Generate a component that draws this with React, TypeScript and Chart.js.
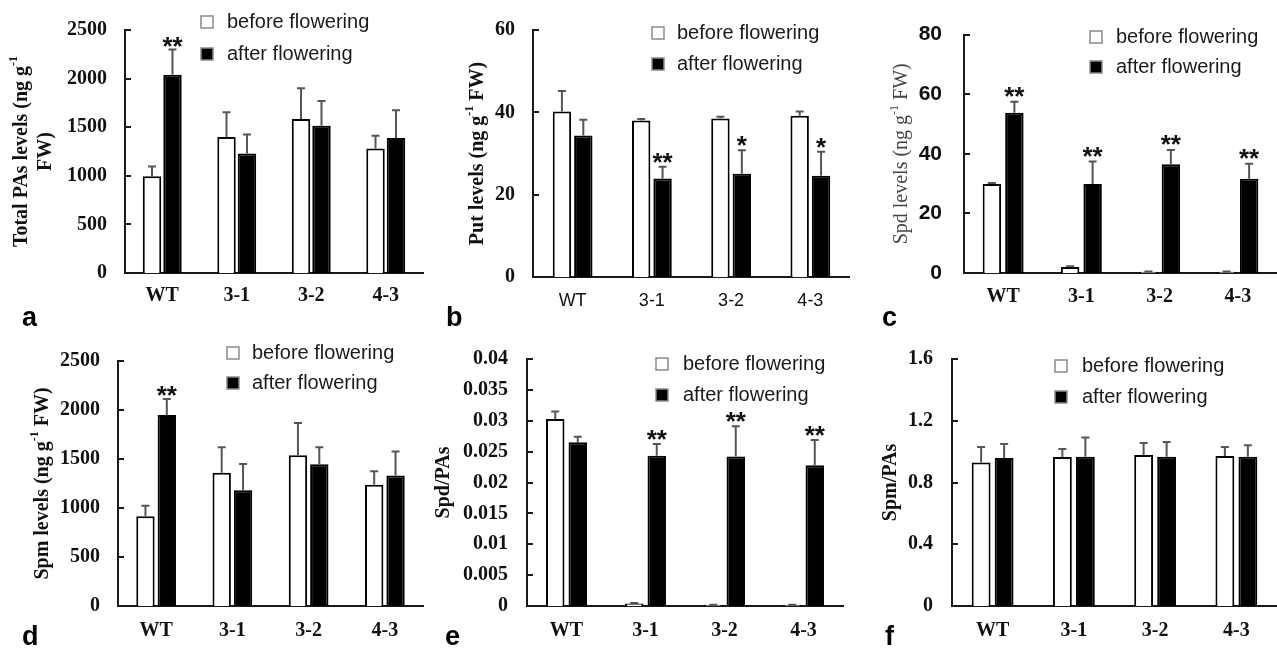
import React, { useEffect, useRef } from "react";
import { Chart, registerables } from "chart.js";

Chart.register(...registerables);

// ---------------- data ----------------
const CATEGORIES = ["WT", "3-1", "3-2", "4-3"];
const SERIES = ["before flowering", "after flowering"];

// a: Total PAs levels
const A_BEFORE = [995, 1400, 1585, 1280];
const A_BEFORE_ERR = [100, 255, 315, 133];
const A_AFTER = [2040, 1230, 1515, 1390];
const A_AFTER_ERR = [260, 195, 255, 285];
const A_SIG = ["**", "", "", ""];
const A_TICKS = [0, 500, 1000, 1500, 2000, 2500];
const A_TICK_LABELS = ["0", "500", "1000", "1500", "2000", "2500"];

// b: Put levels
const B_BEFORE = [40.2, 38.0, 38.5, 39.2];
const B_BEFORE_ERR = [5.0, 0.4, 0.4, 1.0];
const B_AFTER = [34.4, 23.9, 25.1, 24.6];
const B_AFTER_ERR = [3.8, 2.9, 5.7, 5.8];
const B_SIG = ["", "**", "*", "*"];
const B_TICKS = [0, 20, 40, 60];
const B_TICK_LABELS = ["0", "20", "40", "60"];

// c: Spd levels
const C_BEFORE = [29.9, 2.0, 0.4, 0.4];
const C_BEFORE_ERR = [0.3, 0.3, 0.1, 0.1];
const C_AFTER = [53.8, 29.9, 36.5, 31.6];
const C_AFTER_ERR = [3.7, 7.5, 4.8, 5.1];
const C_SIG = ["**", "**", "**", "**"];
const C_TICKS = [0, 20, 40, 60, 80];
const C_TICK_LABELS = ["0", "20", "40", "60", "80"];

// d: Spm levels
const D_BEFORE = [917, 1359, 1539, 1236];
const D_BEFORE_ERR = [105, 261, 329, 140];
const D_AFTER = [1950, 1182, 1447, 1332];
const D_AFTER_ERR = [163, 268, 173, 244];
const D_SIG = ["**", "", "", ""];
const D_TICKS = [0, 500, 1000, 1500, 2000, 2500];
const D_TICK_LABELS = ["0", "500", "1000", "1500", "2000", "2500"];

// e: Spd/PAs
const E_BEFORE = [0.0303, 0.0004, 0.0002, 0.0002];
const E_BEFORE_ERR = [0.0012, 0.0001, 0, 0];
const E_AFTER = [0.0265, 0.02435, 0.0242, 0.0228];
const E_AFTER_ERR = [0.0009, 0.0019, 0.0049, 0.0041];
const E_SIG = ["", "**", "**", "**"];
const E_TICKS = [0, 0.005, 0.01, 0.015, 0.02, 0.025, 0.03, 0.035, 0.04];
const E_TICK_LABELS = ["0", "0.005", "0.01", "0.015", "0.02", "0.025", "0.03", "0.035", "0.04"];

// f: Spm/PAs
const F_BEFORE = [0.93, 0.965, 0.978, 0.972];
const F_BEFORE_ERR = [0.1, 0.052, 0.078, 0.058];
const F_AFTER = [0.959, 0.967, 0.967, 0.967];
const F_AFTER_ERR = [0.09, 0.125, 0.095, 0.074];
const F_SIG = ["", "", "", ""];
const F_TICKS = [0, 0.4, 0.8, 1.2, 1.6];
const F_TICK_LABELS = ["0", "0.4", "0.8", "1.2", "1.6"];

// y-axis titles ("^{...}" marks a superscript)
const A_TITLE = ["Total PAs levels (ng g^{-1}", "FW)"];
const B_TITLE = ["Put levels (ng g^{-1} FW)"];
const C_TITLE = ["Spd levels (ng g^{-1} FW)"];
const D_TITLE = ["Spm levels (ng g^{-1} FW)"];
const E_TITLE = ["Spd/PAs"];
const F_TITLE = ["Spm/PAs"];

const PANEL_LETTERS = ["a", "b", "c", "d", "e", "f"];

// ---------------- styles ----------------
const SERIF = '"Liberation Serif", "Times New Roman", serif';
const SANS = '"Liberation Sans", Arial, sans-serif';
const AXIS_COLOR = "#1a1a1a";
const ERR_COLOR = "#555555";
const TEXT_COLOR = "#111111";

type LegendPos = { mx: number; y1: number; y2: number; tx: number };

type PanelCfg = {
  left: number;
  top: number;
  width: number;
  height: number;
  yAxisWidth: number;
  xAxisHeight: number;
  padTop: number;
  padRight: number;
  catPct: number;
  barPct: number;
  before: number[];
  beforeErr: number[];
  after: number[];
  afterErr: number[];
  sig: string[];
  ticks: number[];
  tickLabels: string[];
  title: string[];
  titleWeight: string;
  titleColor: string;
  titleX: number;
  titleGap: number;
  yTickFont: any;
  yTickPad: number;
  xTickFont: any;
  xTickPad: number;
  legend: LegendPos;
  sigOffset: number;
};

const serifBold20 = { family: SERIF, size: 20, weight: "bold", lineHeight: 1.2 };

const PANELS: PanelCfg[] = [
  {
    left: 0, top: 0, width: 425, height: 318,
    yAxisWidth: 125, xAxisHeight: 45, padTop: 27, padRight: 2,
    catPct: 0.55, barPct: 0.9,
    before: A_BEFORE, beforeErr: A_BEFORE_ERR, after: A_AFTER, afterErr: A_AFTER_ERR, sig: A_SIG,
    ticks: A_TICKS, tickLabels: A_TICK_LABELS,
    title: A_TITLE, titleWeight: "bold", titleColor: TEXT_COLOR, titleX: 22, titleGap: 24,
    yTickFont: serifBold20, yTickPad: 18,
    xTickFont: serifBold20, xTickPad: 11,
    legend: { mx: 201, y1: 22, y2: 54, tx: 227 },
    sigOffset: 6,
  },
  {
    left: 425, top: 0, width: 425, height: 318,
    yAxisWidth: 108, xAxisHeight: 41, padTop: 26, padRight: 0,
    catPct: 0.54, barPct: 0.86,
    before: B_BEFORE, beforeErr: B_BEFORE_ERR, after: B_AFTER, afterErr: B_AFTER_ERR, sig: B_SIG,
    ticks: B_TICKS, tickLabels: B_TICK_LABELS,
    title: B_TITLE, titleWeight: "bold", titleColor: TEXT_COLOR, titleX: 53, titleGap: 24,
    yTickFont: serifBold20, yTickPad: 18,
    xTickFont: { family: SANS, size: 18, weight: "normal", lineHeight: 1.2 }, xTickPad: 13,
    legend: { mx: 227, y1: 33, y2: 64, tx: 252 },
    sigOffset: 4,
  },
  {
    left: 850, top: 0, width: 427, height: 318,
    yAxisWidth: 114, xAxisHeight: 45, padTop: 24, padRight: 0,
    catPct: 0.575, barPct: 0.82,
    before: C_BEFORE, beforeErr: C_BEFORE_ERR, after: C_AFTER, afterErr: C_AFTER_ERR, sig: C_SIG,
    ticks: C_TICKS, tickLabels: C_TICK_LABELS,
    title: C_TITLE, titleWeight: "normal", titleColor: "#444444", titleX: 52, titleGap: 24,
    yTickFont: { family: SANS, size: 21, weight: "bold", lineHeight: 1.2 }, yTickPad: 22,
    xTickFont: serifBold20, xTickPad: 12,
    legend: { mx: 240, y1: 37, y2: 67, tx: 266 },
    sigOffset: 3,
  },
  {
    left: 0, top: 320, width: 425, height: 328,
    yAxisWidth: 118, xAxisHeight: 42, padTop: 41, padRight: 2,
    catPct: 0.56, barPct: 0.86,
    before: D_BEFORE, beforeErr: D_BEFORE_ERR, after: D_AFTER, afterErr: D_AFTER_ERR, sig: D_SIG,
    ticks: D_TICKS, tickLabels: D_TICK_LABELS,
    title: D_TITLE, titleWeight: "bold", titleColor: TEXT_COLOR, titleX: 43, titleGap: 24,
    yTickFont: serifBold20, yTickPad: 18,
    xTickFont: serifBold20, xTickPad: 13,
    legend: { mx: 227, y1: 33, y2: 63, tx: 252 },
    sigOffset: 5,
  },
  {
    left: 425, top: 320, width: 425, height: 328,
    yAxisWidth: 102, xAxisHeight: 42, padTop: 39, padRight: 7,
    catPct: 0.57, barPct: 0.82,
    before: E_BEFORE, beforeErr: E_BEFORE_ERR, after: E_AFTER, afterErr: E_AFTER_ERR, sig: E_SIG,
    ticks: E_TICKS, tickLabels: E_TICK_LABELS,
    title: E_TITLE, titleWeight: "bold", titleColor: TEXT_COLOR, titleX: 19, titleGap: 24,
    yTickFont: serifBold20, yTickPad: 19,
    xTickFont: serifBold20, xTickPad: 13,
    legend: { mx: 231, y1: 44, y2: 75, tx: 258 },
    sigOffset: 4,
  },
  {
    left: 850, top: 320, width: 427, height: 328,
    yAxisWidth: 102, xAxisHeight: 42, padTop: 39, padRight: 0,
    catPct: 0.566, barPct: 0.82,
    before: F_BEFORE, beforeErr: F_BEFORE_ERR, after: F_AFTER, afterErr: F_AFTER_ERR, sig: F_SIG,
    ticks: F_TICKS, tickLabels: F_TICK_LABELS,
    title: F_TITLE, titleWeight: "bold", titleColor: TEXT_COLOR, titleX: 41, titleGap: 24,
    yTickFont: serifBold20, yTickPad: 19,
    xTickFont: serifBold20, xTickPad: 13,
    legend: { mx: 205, y1: 46, y2: 77, tx: 232 },
    sigOffset: 4,
  },
];

const LETTER_POS = [
  { x: 22, baseline: 327 },
  { x: 446, baseline: 327 },
  { x: 882, baseline: 327 },
  { x: 22, baseline: 646 },
  { x: 445, baseline: 646 },
  { x: 885, baseline: 646 },
];

// ---------------- helpers ----------------
function parseRich(s: string): { text: string; sup: boolean }[] {
  const out: { text: string; sup: boolean }[] = [];
  const re = /\^\{([^}]*)\}/g;
  let last = 0;
  let m: RegExpExecArray | null;
  while ((m = re.exec(s))) {
    if (m.index > last) out.push({ text: s.slice(last, m.index), sup: false });
    out.push({ text: m[1], sup: true });
    last = m.index + m[0].length;
  }
  if (last < s.length) out.push({ text: s.slice(last), sup: false });
  return out;
}

// ---------------- plugin ----------------
const decoPlugin = {
  id: "panelDeco",
  afterDatasetsDraw(chart: any, _args: any, opts: any) {
    const ctx = chart.ctx;
    const y = chart.scales.y;
    const area = chart.chartArea;
    ctx.save();

    // inward tick marks on the y axis
    ctx.strokeStyle = AXIS_COLOR;
    ctx.lineWidth = 2;
    y.ticks.forEach((t: any) => {
      const py = Math.round(y.getPixelForValue(t.value));
      ctx.beginPath();
      ctx.moveTo(y.right, py);
      ctx.lineTo(y.right + 6, py);
      ctx.stroke();
    });

    // error bars + significance marks
    chart.data.datasets.forEach((ds: any, di: number) => {
      const meta = chart.getDatasetMeta(di);
      meta.data.forEach((el: any, i: number) => {
        const v = ds.data[i];
        const e = ds.errors ? ds.errors[i] : 0;
        const topPx = y.getPixelForValue(v + e);
        const barTop = y.getPixelForValue(v);
        ctx.strokeStyle = ERR_COLOR;
        ctx.lineWidth = 2;
        ctx.beginPath();
        ctx.moveTo(el.x, barTop);
        ctx.lineTo(el.x, topPx);
        ctx.moveTo(el.x - 4, topPx);
        ctx.lineTo(el.x + 4, topPx);
        ctx.stroke();
        const s = ds.sig ? ds.sig[i] : "";
        if (s) {
          ctx.fillStyle = TEXT_COLOR;
          ctx.font = `bold 26px ${SANS}`;
          ctx.textAlign = "center";
          ctx.textBaseline = "alphabetic";
          ctx.fillText(s, el.x, topPx + (opts.sigOffset || 0));
        }
      });
    });

    // y-axis title with superscripts
    const t = opts.title;
    const cy = (area.top + area.bottom) / 2;
    const size = 20;
    const baseFont = `${t.weight} ${size}px ${SERIF}`;
    const supFont = `${t.weight} ${Math.round(size * 0.6)}px ${SERIF}`;
    t.lines.forEach((line: string, k: number) => {
      const segs = parseRich(line);
      let total = 0;
      segs.forEach((sg) => {
        ctx.font = sg.sup ? supFont : baseFont;
        total += ctx.measureText(sg.text).width;
      });
      ctx.save();
      ctx.translate(t.x + k * t.gap, cy);
      ctx.rotate(-Math.PI / 2);
      ctx.fillStyle = t.color;
      ctx.textAlign = "left";
      ctx.textBaseline = "middle";
      let x = -total / 2;
      segs.forEach((sg) => {
        ctx.font = sg.sup ? supFont : baseFont;
        ctx.fillText(sg.text, x, sg.sup ? -size * 0.38 : 0);
        x += ctx.measureText(sg.text).width;
      });
      ctx.restore();
    });

    // legend
    const lg = opts.legend;
    const rows = [lg.y1, lg.y2];
    chart.data.datasets.forEach((ds: any, di: number) => {
      const ry = rows[di];
      ctx.fillStyle = ds.backgroundColor;
      ctx.fillRect(lg.mx, ry - 6, 12, 12);
      ctx.strokeStyle = "#8a8a8a";
      ctx.lineWidth = 1.5;
      ctx.strokeRect(lg.mx, ry - 6, 12, 12);
      ctx.fillStyle = "#1a1a1a";
      ctx.font = `20px ${SANS}`;
      ctx.textAlign = "left";
      ctx.textBaseline = "middle";
      ctx.fillText(ds.label, lg.tx, ry);
    });

    ctx.restore();
  },
};

// ---------------- components ----------------
function Panel({ cfg }: { cfg: PanelCfg }) {
  const ref = useRef<HTMLCanvasElement | null>(null);

  useEffect(() => {
    if (!ref.current) return;
    const chart = new Chart(ref.current, {
      type: "bar",
      data: {
        labels: CATEGORIES,
        datasets: [
          {
            label: SERIES[0],
            data: cfg.before,
            backgroundColor: "#ffffff",
            borderColor: "#000000",
            borderWidth: 2,
            errors: cfg.beforeErr,
            sig: [],
          } as any,
          {
            label: SERIES[1],
            data: cfg.after,
            backgroundColor: "#000000",
            borderColor: "#000000",
            borderWidth: 2,
            errors: cfg.afterErr,
            sig: cfg.sig,
          } as any,
        ],
      },
      options: {
        responsive: false,
        animation: false,
        devicePixelRatio: 1,
        events: [],
        layout: { padding: { top: cfg.padTop, right: cfg.padRight, left: 0, bottom: 0 } },
        datasets: { bar: { categoryPercentage: cfg.catPct, barPercentage: cfg.barPct } },
        plugins: {
          legend: { display: false },
          tooltip: { enabled: false },
          title: { display: false },
          panelDeco: {
            legend: cfg.legend,
            sigOffset: cfg.sigOffset,
            title: { lines: cfg.title, weight: cfg.titleWeight, color: cfg.titleColor, x: cfg.titleX, gap: cfg.titleGap },
          },
        } as any,
        scales: {
          x: {
            grid: { display: false, drawTicks: false },
            border: { display: true, color: AXIS_COLOR, width: 2 },
            ticks: { font: cfg.xTickFont, color: TEXT_COLOR, padding: cfg.xTickPad, maxRotation: 0, autoSkip: false },
            afterFit: (s: any) => {
              s.height = cfg.xAxisHeight;
            },
          },
          y: {
            min: cfg.ticks[0],
            max: cfg.ticks[cfg.ticks.length - 1],
            grid: { display: false, drawTicks: false },
            border: { display: true, color: AXIS_COLOR, width: 2 },
            afterBuildTicks: (s: any) => {
              s.ticks = cfg.ticks.map((v) => ({ value: v }));
            },
            ticks: {
              autoSkip: false,
              font: cfg.yTickFont,
              color: TEXT_COLOR,
              padding: cfg.yTickPad,
              callback: (_v: any, i: number) => cfg.tickLabels[i],
            },
            title: { display: false },
            afterFit: (s: any) => {
              s.width = cfg.yAxisWidth;
            },
          },
        },
      } as any,
      plugins: [decoPlugin],
    });
    return () => chart.destroy();
  }, [cfg]);

  return (
    <canvas
      ref={ref}
      width={cfg.width}
      height={cfg.height}
      style={{ position: "absolute", left: cfg.left, top: cfg.top, width: cfg.width, height: cfg.height }}
    />
  );
}

export default function App() {
  return (
    <div
      style={{
        position: "absolute",
        left: 0,
        top: 0,
        width: 1277,
        height: 648,
        background: "#ffffff",
        overflow: "hidden",
      }}
    >
      {PANELS.map((p, i) => (
        <Panel key={i} cfg={p} />
      ))}
      {PANEL_LETTERS.map((l, i) => (
        <div
          key={l}
          style={{
            position: "absolute",
            left: LETTER_POS[i].x,
            top: LETTER_POS[i].baseline - 23,
            font: `bold 27px ${SANS}`,
            lineHeight: "27px",
            color: "#000",
          }}
        >
          {l}
        </div>
      ))}
    </div>
  );
}
